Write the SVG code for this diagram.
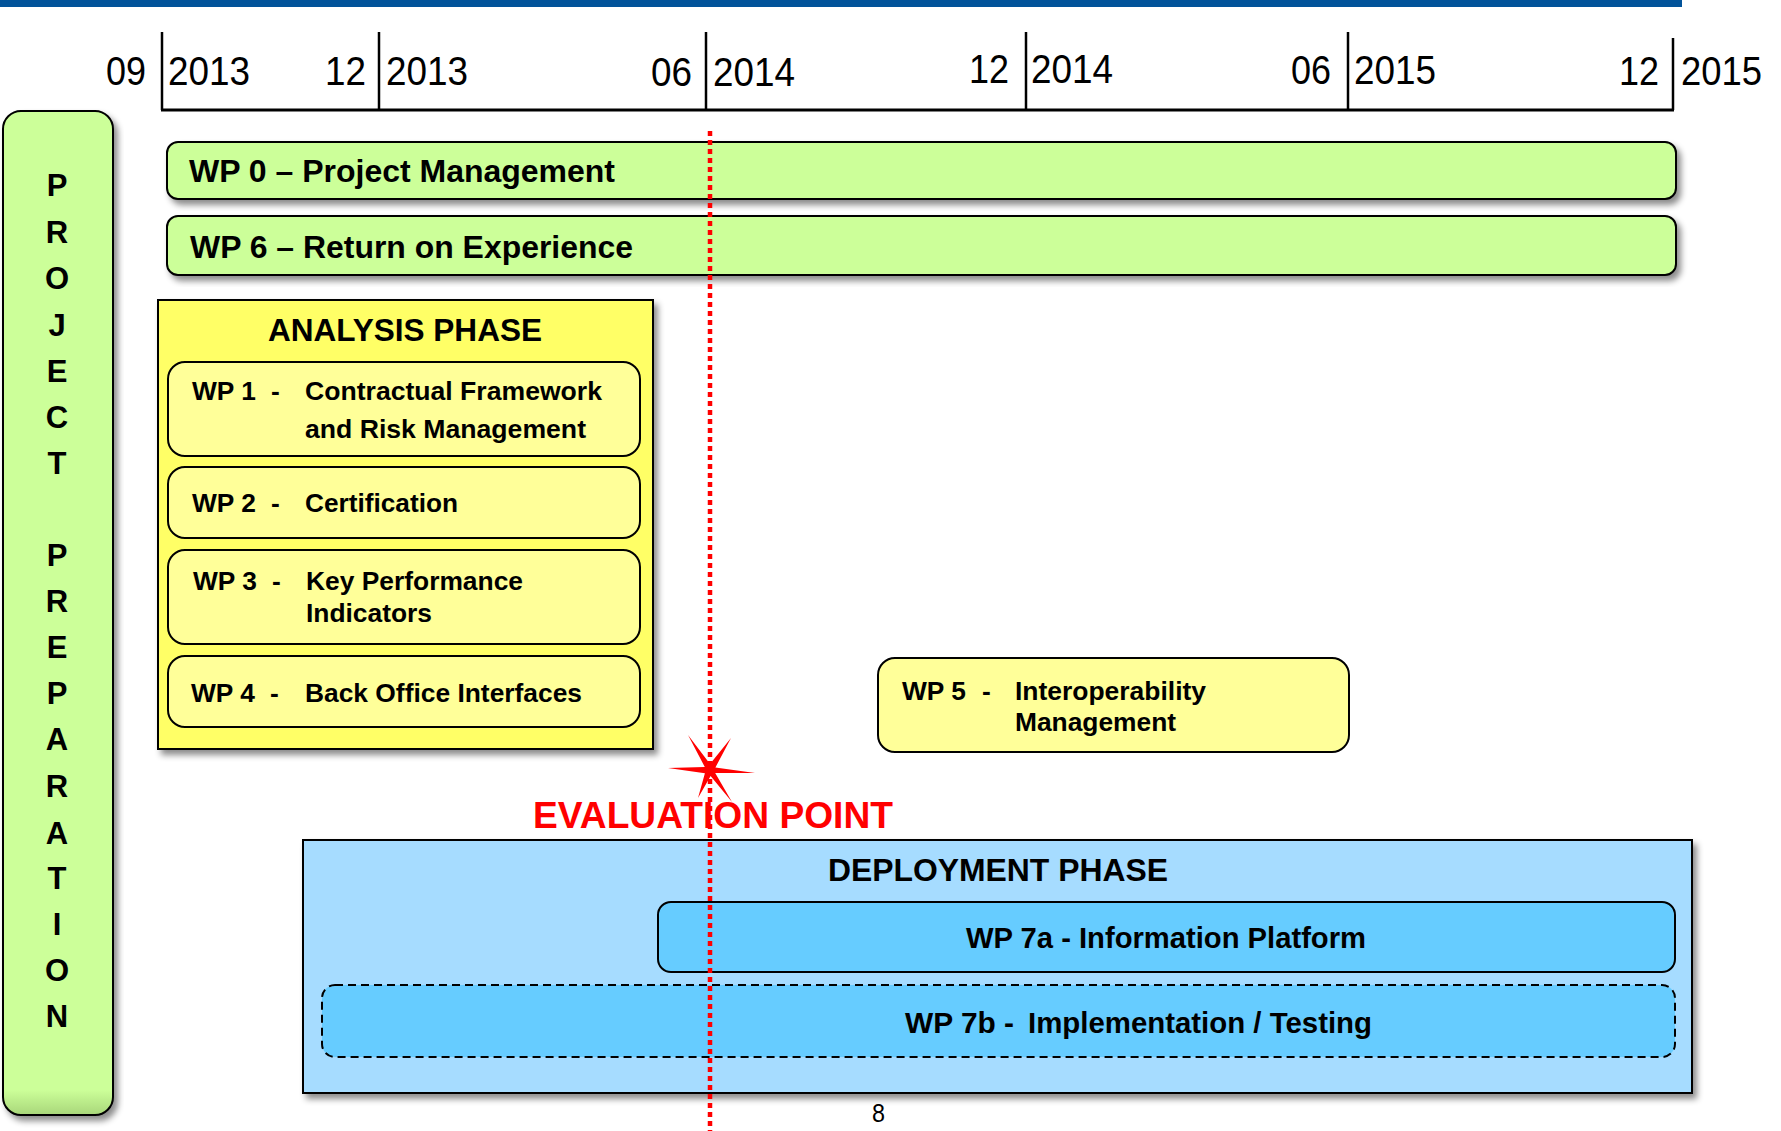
<svg xmlns="http://www.w3.org/2000/svg" width="1781" height="1131" viewBox="0 0 1781 1131">
<style>
.ax{font-family:"Liberation Sans",Arial,sans-serif;font-size:41px;fill:#000}
.b{font-family:"Liberation Sans",Arial,sans-serif;font-weight:bold;fill:#000}
.vl{font-family:"Liberation Sans",Arial,sans-serif;font-weight:bold;font-size:31px;fill:#000;text-anchor:middle}
.wp{font-size:26.3px}
.tick{stroke:#000;stroke-width:2.5}
.green{fill:#CCFF99;stroke:#000;stroke-width:2}
.inner{fill:#FFFF99;stroke:#000;stroke-width:2}
.blue{fill:#66CCFF;stroke:#000;stroke-width:2}
</style>
<defs>
<filter id="sh" x="-5%" y="-10%" width="115%" height="130%">
<feDropShadow dx="4" dy="5" stdDeviation="3" flood-color="#000" flood-opacity="0.45"/>
</filter>
<linearGradient id="gbar" x1="0" y1="0" x2="0" y2="1">
<stop offset="0" stop-color="#CCFF99"/>
<stop offset="0.975" stop-color="#CCFF99"/>
<stop offset="1" stop-color="#A8D67A"/>
</linearGradient>
</defs>
<rect id="topbar" x="0" y="0" width="1682" height="7" fill="#02539A"/>
<g id="axis">
<line class="tick" x1="161" y1="110" x2="1674" y2="110" style="stroke-width:3"/>
<line class="tick" x1="162" y1="32" x2="162" y2="110"/>
<line class="tick" x1="379" y1="32" x2="379" y2="110"/>
<line class="tick" x1="706" y1="32" x2="706" y2="110"/>
<line class="tick" x1="1026" y1="32" x2="1026" y2="110"/>
<line class="tick" x1="1348" y1="32" x2="1348" y2="110"/>
<line class="tick" x1="1673" y1="38" x2="1673" y2="110"/>
<text class="ax" x="106" y="85" textLength="40" lengthAdjust="spacingAndGlyphs">09</text>
<text class="ax" x="168" y="85" textLength="82" lengthAdjust="spacingAndGlyphs">2013</text>
<text class="ax" x="325" y="85" textLength="41" lengthAdjust="spacingAndGlyphs">12</text>
<text class="ax" x="386" y="85" textLength="82" lengthAdjust="spacingAndGlyphs">2013</text>
<text class="ax" x="651" y="86" textLength="41" lengthAdjust="spacingAndGlyphs">06</text>
<text class="ax" x="713" y="86" textLength="82" lengthAdjust="spacingAndGlyphs">2014</text>
<text class="ax" x="969" y="83" textLength="40" lengthAdjust="spacingAndGlyphs">12</text>
<text class="ax" x="1031" y="83" textLength="82" lengthAdjust="spacingAndGlyphs">2014</text>
<text class="ax" x="1291" y="84" textLength="40" lengthAdjust="spacingAndGlyphs">06</text>
<text class="ax" x="1354" y="84" textLength="82" lengthAdjust="spacingAndGlyphs">2015</text>
<text class="ax" x="1619" y="85" textLength="40" lengthAdjust="spacingAndGlyphs">12</text>
<text class="ax" x="1681" y="85" textLength="81" lengthAdjust="spacingAndGlyphs">2015</text>
</g>
<g id="project-preparation">
<rect x="3" y="111" width="110" height="1004" rx="18" fill="url(#gbar)" stroke="#000" stroke-width="2" filter="url(#sh)"/>
<text class="vl" x="57" y="196">P</text>
<text class="vl" x="57" y="243">R</text>
<text class="vl" x="57" y="289">O</text>
<text class="vl" x="57" y="336">J</text>
<text class="vl" x="57" y="382">E</text>
<text class="vl" x="57" y="428">C</text>
<text class="vl" x="57" y="474">T</text>
<text class="vl" x="57" y="566">P</text>
<text class="vl" x="57" y="612">R</text>
<text class="vl" x="57" y="658">E</text>
<text class="vl" x="57" y="704">P</text>
<text class="vl" x="57" y="750">A</text>
<text class="vl" x="57" y="797">R</text>
<text class="vl" x="57" y="844">A</text>
<text class="vl" x="57" y="889">T</text>
<text class="vl" x="57" y="935">I</text>
<text class="vl" x="57" y="981">O</text>
<text class="vl" x="57" y="1027">N</text>
</g>
<g id="wp0">
<rect class="green" x="167" y="142" width="1509" height="57" rx="11" filter="url(#sh)"/>
<text class="b" x="189" y="182" font-size="31" textLength="426" lengthAdjust="spacingAndGlyphs">WP 0 – Project Management</text>
</g>
<g id="wp6">
<rect class="green" x="167" y="216" width="1509" height="59" rx="11" filter="url(#sh)"/>
<text class="b" x="190" y="258" font-size="31" textLength="443" lengthAdjust="spacingAndGlyphs">WP 6 – Return on Experience</text>
</g>
<g id="analysis-phase">
<rect x="158" y="300" width="495" height="449" fill="#FFFF66" stroke="#000" stroke-width="2" filter="url(#sh)"/>
<text class="b" x="268" y="341" font-size="31" textLength="274" lengthAdjust="spacingAndGlyphs">ANALYSIS PHASE</text>
</g>
<g id="wp1">
<rect class="inner" x="168" y="362" width="472" height="94" rx="17"/>
<text class="b wp" x="192" y="400">WP 1</text>
<text class="b wp" x="271" y="400">-</text>
<text class="b wp" x="305" y="400" textLength="297" lengthAdjust="spacingAndGlyphs">Contractual Framework</text>
<text class="b wp" x="305" y="438" textLength="281" lengthAdjust="spacingAndGlyphs">and Risk Management</text>
</g>
<g id="wp2">
<rect class="inner" x="168" y="467" width="472" height="71" rx="17"/>
<text class="b wp" x="192" y="512">WP 2</text>
<text class="b wp" x="271" y="512">-</text>
<text class="b wp" x="305" y="512" textLength="153" lengthAdjust="spacingAndGlyphs">Certification</text>
</g>
<g id="wp3">
<rect class="inner" x="168" y="550" width="472" height="94" rx="17"/>
<text class="b wp" x="193" y="590">WP 3</text>
<text class="b wp" x="272" y="590">-</text>
<text class="b wp" x="306" y="590" textLength="217" lengthAdjust="spacingAndGlyphs">Key Performance</text>
<text class="b wp" x="306" y="622" textLength="126" lengthAdjust="spacingAndGlyphs">Indicators</text>
</g>
<g id="wp4">
<rect class="inner" x="168" y="656" width="472" height="71" rx="17"/>
<text class="b wp" x="191" y="702">WP 4</text>
<text class="b wp" x="270" y="702">-</text>
<text class="b wp" x="305" y="702" textLength="277" lengthAdjust="spacingAndGlyphs">Back Office Interfaces</text>
</g>
<g id="wp5">
<rect class="inner" x="878" y="658" width="471" height="94" rx="17"/>
<text class="b wp" x="902" y="700">WP 5</text>
<text class="b wp" x="982" y="700">-</text>
<text class="b wp" x="1015" y="700" textLength="191" lengthAdjust="spacingAndGlyphs">Interoperability</text>
<text class="b wp" x="1015" y="731" textLength="161" lengthAdjust="spacingAndGlyphs">Management</text>
</g>
<g id="deployment-phase">
<rect x="303" y="840" width="1389" height="253" fill="#A6DCFF" stroke="#000" stroke-width="2" filter="url(#sh)"/>
<text class="b" x="828" y="881" font-size="31" textLength="340" lengthAdjust="spacingAndGlyphs">DEPLOYMENT PHASE</text>
</g>
<g id="wp7a">
<rect class="blue" x="658" y="902" width="1017" height="70" rx="13"/>
<text class="b" x="966" y="948" font-size="29" textLength="400" lengthAdjust="spacingAndGlyphs">WP 7a - Information Platform</text>
</g>
<g id="wp7b">
<rect class="blue" x="322" y="985" width="1353" height="72" rx="13" stroke-dasharray="8 5"/>
<text class="b" x="905" y="1033" font-size="29" textLength="109" lengthAdjust="spacingAndGlyphs">WP 7b -</text>
<text class="b" x="1028" y="1033" font-size="29" textLength="344" lengthAdjust="spacingAndGlyphs">Implementation / Testing</text>
</g>
<g id="evaluation-point">
<text class="b" x="533" y="828" font-size="36" style="fill:#FF0000" textLength="360" lengthAdjust="spacingAndGlyphs">EVALUATION POINT</text>
<polygon points="755,773 715.2,773 732,802 710.6,776 698,798 704.9,773.2 668,768 704.8,767 688,735 710,764 731,738 715.4,767.5" fill="#FF0000"/>
</g>
<g id="connectors">
<line x1="710" y1="131" x2="710" y2="1131" stroke="#FF0000" stroke-width="4.5" stroke-dasharray="5 4"/>
</g>
<text class="ax" x="872" y="1122" style="font-size:26px" textLength="13" lengthAdjust="spacingAndGlyphs">8</text>
</svg>
